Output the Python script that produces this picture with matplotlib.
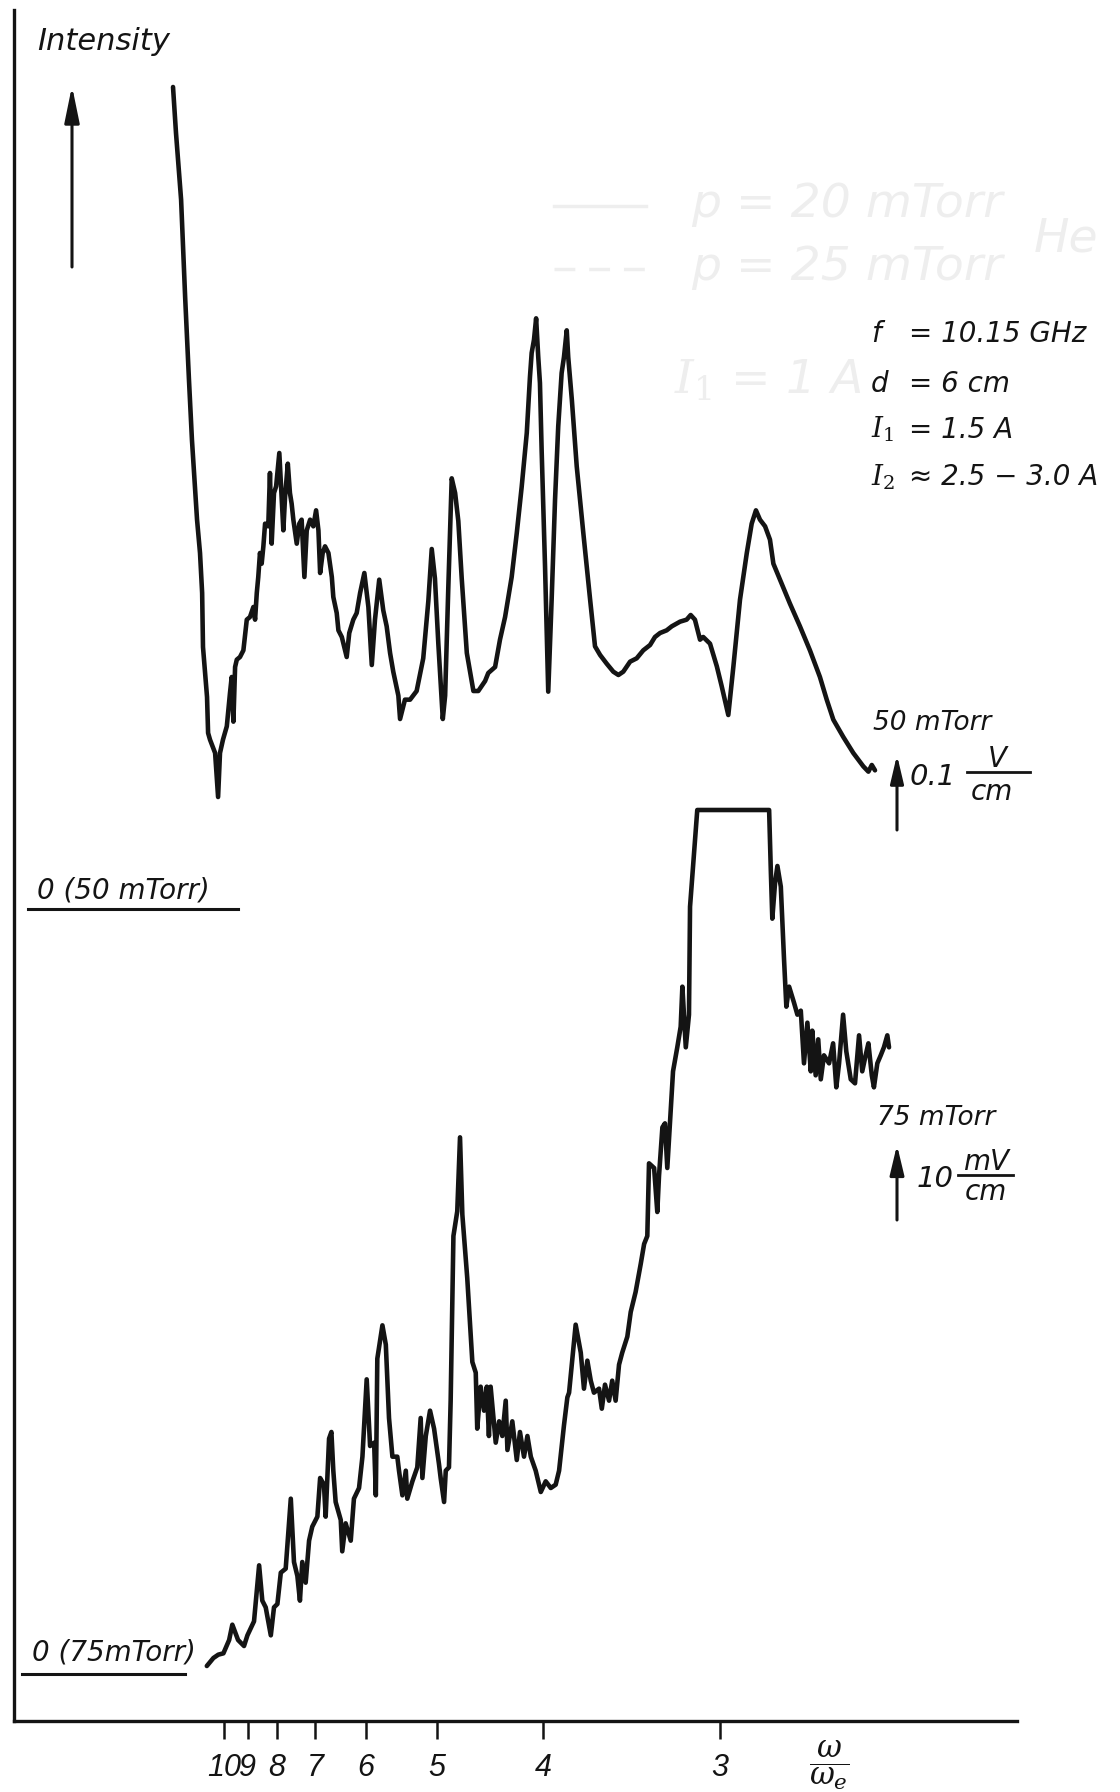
import matplotlib
matplotlib.use("Agg")
import matplotlib.pyplot as plt
from matplotlib import font_manager as fm
from matplotlib.patches import FancyArrowPatch
from matplotlib.lines import Line2D

# ---------------------------------------------------------------- data
# abscissa: omega_e / omega (linear in magnetic field); ticks labelled omega/omega_e
TICK_RATIOS = [10, 9, 8, 7, 6, 5, 4, 3]
X_LIMITS = (0.0012, 0.4730)

# 50 mTorr trace (intensity in mV/cm)
P50_X = [0.0760, 0.0774, 0.0798, 0.0817, 0.0835, 0.0849, 0.0873, 0.0887, 0.0897, 0.0901,
         0.0920, 0.0925, 0.0934, 0.0958, 0.0972, 0.0981, 0.0995, 0.1013, 0.1028, 0.1036,
         0.1044, 0.1052, 0.1060, 0.1075, 0.1091, 0.1107, 0.1122, 0.1138, 0.1146, 0.1154,
         0.1161, 0.1169, 0.1177, 0.1185, 0.1193, 0.1208, 0.1216, 0.1224, 0.1235, 0.1245,
         0.1260, 0.1271, 0.1279, 0.1287, 0.1300, 0.1310, 0.1318, 0.1326, 0.1342, 0.1354,
         0.1365, 0.1378, 0.1389, 0.1405, 0.1420, 0.1433, 0.1444, 0.1452, 0.1464, 0.1475,
         0.1491, 0.1507, 0.1514, 0.1530, 0.1538, 0.1554, 0.1569, 0.1577, 0.1589, 0.1608,
         0.1624, 0.1640, 0.1660, 0.1679, 0.1695, 0.1710, 0.1730, 0.1749, 0.1765, 0.1781,
         0.1796, 0.1820, 0.1828, 0.1851, 0.1875, 0.1906, 0.1937, 0.1961, 0.1977, 0.1992,
         0.2008, 0.2029, 0.2040, 0.2055, 0.2071, 0.2087, 0.2102, 0.2118, 0.2142, 0.2173,
         0.2196, 0.2228, 0.2243, 0.2275, 0.2298, 0.2322, 0.2353, 0.2377, 0.2400, 0.2424,
         0.2439, 0.2447, 0.2458, 0.2468, 0.2478, 0.2486, 0.2494, 0.2510, 0.2525, 0.2541,
         0.2557, 0.2572, 0.2588, 0.2599, 0.2612, 0.2619, 0.2636, 0.2659, 0.2690, 0.2722,
         0.2745, 0.2769, 0.2800, 0.2831, 0.2855, 0.2878, 0.2910, 0.2941, 0.2972, 0.3004,
         0.3027, 0.3051, 0.3082, 0.3106, 0.3145, 0.3176, 0.3195, 0.3215, 0.3239, 0.3254,
         0.3286, 0.3318, 0.3341, 0.3372, 0.3396, 0.3427, 0.3459, 0.3482, 0.3502, 0.3521,
         0.3545, 0.3568, 0.3584, 0.3615, 0.3662, 0.3709, 0.3756, 0.3803, 0.3835, 0.3866,
         0.3913, 0.3960, 0.4007, 0.4031, 0.4047, 0.4062]
P50_Y = [1233, 1164, 1064, 918, 794, 704, 584, 534, 474, 393,
         318, 264, 254, 234, 168, 234, 254, 274, 324, 348,
         281, 363, 374, 378, 388, 434, 438, 453, 434, 474,
         498, 534, 518, 544, 578, 574, 654, 548, 624, 634,
         684, 618, 568, 618, 668, 624, 608, 584, 548, 578,
         584, 498, 568, 584, 574, 598, 568, 504, 534, 544,
         534, 498, 468, 444, 418, 408, 388, 378, 414, 434,
         444, 474, 504, 453, 366, 434, 494, 448, 424, 384,
         356, 320, 285, 314, 314, 327, 376, 462, 540, 496,
         398, 285, 320, 483, 646, 624, 582, 496, 384, 327,
         327, 342, 354, 363, 404, 438, 498, 564, 633, 714,
         798, 834, 854, 886, 828, 789, 688, 513, 326, 464,
         614, 724, 804, 828, 868, 828, 764, 664, 564, 464,
         394, 381, 368, 356, 351, 356, 371, 376, 388, 396,
         408, 414, 418, 424, 431, 434, 441, 434, 404, 408,
         398, 364, 334, 291, 364, 464, 534, 578, 598, 584,
         574, 554, 518, 494, 458, 424, 388, 348, 314, 284,
         258, 234, 214, 206, 216, 208]

# 75 mTorr trace (intensity in mV/cm, pen saturated at the top)
P75_X = [0.0919, 0.0950, 0.0973, 0.0997, 0.1024, 0.1039, 0.1066, 0.1094, 0.1110, 0.1141,
         0.1165, 0.1180, 0.1196, 0.1220, 0.1235, 0.1251, 0.1267, 0.1290, 0.1314, 0.1329,
         0.1345, 0.1357, 0.1368, 0.1384, 0.1400, 0.1415, 0.1439, 0.1452, 0.1470, 0.1478,
         0.1494, 0.1505, 0.1514, 0.1525, 0.1549, 0.1556, 0.1572, 0.1596, 0.1611, 0.1635,
         0.1651, 0.1671, 0.1687, 0.1706, 0.1714, 0.1721, 0.1745, 0.1761, 0.1776, 0.1792,
         0.1815, 0.1823, 0.1839, 0.1855, 0.1862, 0.1886, 0.1909, 0.1925, 0.1933, 0.1949,
         0.1969, 0.1988, 0.2011, 0.2019, 0.2035, 0.2043, 0.2058, 0.2066, 0.2079, 0.2097,
         0.2110, 0.2121, 0.2144, 0.2168, 0.2184, 0.2191, 0.2207, 0.2223, 0.2236, 0.2246,
         0.2254, 0.2278, 0.2294, 0.2309, 0.2325, 0.2333, 0.2356, 0.2377, 0.2392, 0.2411,
         0.2427, 0.2443, 0.2466, 0.2490, 0.2513, 0.2537, 0.2560, 0.2576, 0.2599, 0.2615,
         0.2623, 0.2654, 0.2678, 0.2693, 0.2709, 0.2725, 0.2740, 0.2764, 0.2777, 0.2792,
         0.2811, 0.2826, 0.2842, 0.2858, 0.2873, 0.2897, 0.2913, 0.2936, 0.2960, 0.2976,
         0.2991, 0.2999, 0.3023, 0.3038, 0.3046, 0.3062, 0.3074, 0.3085, 0.3101, 0.3112,
         0.3132, 0.3148, 0.3156, 0.3172, 0.3187, 0.3192, 0.3219, 0.3226, 0.3258, 0.3564,
         0.3572, 0.3579, 0.3592, 0.3603, 0.3619, 0.3634, 0.3645, 0.3658, 0.3681, 0.3697,
         0.3713, 0.3728, 0.3744, 0.3760, 0.3767, 0.3783, 0.3795, 0.3807, 0.3822, 0.3846,
         0.3865, 0.3880, 0.3893, 0.3912, 0.3927, 0.3948, 0.3968, 0.3987, 0.4002, 0.4018,
         0.4031, 0.4047, 0.4057, 0.4073, 0.4089, 0.4104, 0.4120, 0.4128]
P75_Y = [1.2, 2.4, 2.9, 3.1, 5.1, 7.4, 5.1, 4.2, 5.8, 7.9,
         16.3, 11.0, 10.0, 5.8, 10.0, 10.5, 15.2, 15.8, 26.3, 16.8,
         14.7, 11.0, 16.8, 13.7, 20.0, 22.1, 23.6, 29.4, 28.4, 23.6,
         35.3, 36.3, 30.5, 25.8, 23.1, 18.4, 22.6, 20.0, 26.3, 27.9,
         32.6, 44.2, 34.2, 34.7, 26.8, 47.3, 52.3, 49.4, 38.4, 32.6,
         32.6, 30.5, 26.8, 30.5, 26.3, 28.9, 31.0, 38.4, 29.4, 35.7,
         39.5, 36.8, 31.5, 29.4, 25.8, 30.5, 31.0, 41.0, 65.7, 69.4,
         80.5, 68.9, 59.4, 46.8, 45.2, 36.8, 43.1, 39.5, 43.1, 35.7,
         43.1, 34.7, 37.9, 35.7, 41.0, 33.6, 37.9, 32.1, 36.3, 32.6,
         35.7, 32.6, 30.5, 27.3, 28.9, 27.9, 28.4, 30.5, 37.3, 41.5,
         42.2, 52.4, 48.2, 42.8, 47.0, 44.0, 42.2, 42.8, 39.8, 43.4,
         41.0, 44.0, 41.0, 46.4, 48.2, 50.6, 54.3, 57.3, 61.5, 64.5,
         65.7, 76.6, 75.9, 69.3, 74.7, 82.0, 82.6, 75.9, 84.4, 90.4,
         94.0, 97.1, 103.1, 94.0, 98.9, 115.1, 126.6, 129.6, 129.6, 129.6,
         120.5, 113.3, 118.7, 121.2, 118.1, 107.3, 100.1, 103.1, 100.7, 98.9,
         99.5, 91.6, 97.7, 90.4, 96.5, 89.8, 95.2, 89.2, 92.8, 91.6,
         94.6, 88.0, 91.6, 98.9, 93.4, 89.2, 88.6, 95.8, 90.4, 92.8,
         94.6, 89.8, 88.0, 91.6, 92.8, 94.0, 95.8, 94.0]

P50_YLIM = (-1218, 1348.5)
P75_YLIM = (-7.05, 249.6)

PARAM_SYMBOLS = ["f", "d", r"$I_{\mathit{1}}$", r"$I_{\mathit{2}}$"]
PARAM_VALUES = ["= 10.15 GHz", "= 6 cm", "= 1.5 A", "≈ 2.5 − 3.0 A"]

assert len(P50_X) == len(P50_Y) and len(P75_X) == len(P75_Y)

# ---------------------------------------------------------------- style
names = {f.name for f in fm.fontManager.ttflist}
NARROW = "Liberation Sans Narrow" if "Liberation Sans Narrow" in names else "Liberation Sans"
plt.rcParams["font.family"] = ["DejaVu Sans"]
plt.rcParams["mathtext.fontset"] = "dejavuserif"

INK = "#141414"
GHOST = "#eeeeee"
W, H = 1120, 1792

fig = plt.figure(figsize=(W / 100, H / 100), dpi=100)
fig.patch.set_facecolor("white")


def fx(px):
    return px / W


def fy(py):
    return 1 - py / H


ax = fig.add_axes([fx(14), fy(1721), (1017 - 14) / W, (1721 - 10) / H])
ax.set_facecolor("none")
ax2 = ax.twinx()
ax2.set_facecolor("none")

ax.set_xlim(*X_LIMITS)
ax.set_ylim(*P50_YLIM)
ax2.set_ylim(*P75_YLIM)

for s in ["top", "right"]:
    ax.spines[s].set_visible(False)
for s in ["left", "bottom"]:
    ax.spines[s].set_linewidth(2.4)
    ax.spines[s].set_color(INK)
for s in ax2.spines.values():
    s.set_visible(False)
ax.set_yticks([])
ax2.set_yticks([])

ax.set_xticks([1 / r for r in TICK_RATIOS])
ax.set_xticklabels([str(r) for r in TICK_RATIOS])
ax.tick_params(axis="x", direction="out", length=13, width=1.8, pad=10,
               labelsize=22, colors=INK)
for lbl in ax.get_xticklabels():
    lbl.set_fontfamily(NARROW)
    lbl.set_fontstyle("italic")

# ---------------------------------------------------------------- traces
ax.plot(P50_X, P50_Y, color=INK, lw=3.3, solid_joinstyle="round",
        solid_capstyle="round", zorder=3)
ax2.plot(P75_X, P75_Y, color=INK, lw=3.3, solid_joinstyle="round",
         solid_capstyle="round", zorder=3)

# ---------------------------------------------------------------- ghost (show-through of the facing page)
gk = dict(color=GHOST, fontsize=34, fontstyle="oblique", va="baseline", zorder=0)
fig.text(fx(691), fy(217), "p = 20 mTorr", **gk)
fig.text(fx(691), fy(280), "p = 25 mTorr", **gk)
fig.text(fx(1034), fy(251), "He", **gk)
fig.text(fx(674), fy(394), r"$I_1$ = 1 A", **gk)
fig.add_artist(Line2D([fx(554), fx(646)], [fy(206), fy(206)], color=GHOST, lw=2.5, zorder=0))
fig.add_artist(Line2D([fx(554), fx(650)], [fy(269), fy(269)], color=GHOST, lw=2.5,
                      ls=(0, (6, 4)), zorder=0))

# ---------------------------------------------------------------- annotations
txt = dict(color=INK, fontstyle="oblique", va="baseline")

fig.text(fx(37), fy(50), "Intensity", fontsize=22, **txt)


def arrow(x, y0, y1, hl, hw):
    fig.add_artist(FancyArrowPatch((fx(x), fy(y0)), (fx(x), fy(y1)),
                                   transform=fig.transFigure,
                                   arrowstyle=f"-|>,head_length={hl},head_width={hw}",
                                   mutation_scale=1, lw=2.2, color=INK,
                                   shrinkA=0, shrinkB=0))


arrow(72, 267, 86, 22, 4.5)
arrow(897, 830, 755, 17, 4.0)
arrow(897, 1220, 1145, 18, 4.3)

# parameters
rows = [342, 392, 438, 485]
for sym, val, yb in zip(PARAM_SYMBOLS, PARAM_VALUES, rows):
    fig.text(fx(871), fy(yb), sym, fontsize=20, **txt)
    fig.text(fx(909), fy(yb), val, fontsize=20, **txt)

# scale labels
fig.text(fx(873), fy(730), "50 mTorr", fontsize=19, **txt)
fig.text(fx(910), fy(785), "0.1", fontsize=21, **txt)
fig.text(fx(997), fy(767), "V", fontsize=20, ha="center", **txt)
fig.add_artist(Line2D([fx(967), fx(1030)], [fy(772), fy(772)], color=INK, lw=2.0))
fig.text(fx(992), fy(800), "cm", fontsize=20, ha="center", **txt)

fig.text(fx(877), fy(1125), "75 mTorr", fontsize=19, **txt)
fig.text(fx(917), fy(1187), "10", fontsize=21, **txt)
fig.text(fx(986), fy(1170), "mV", fontsize=20, ha="center", **txt)
fig.add_artist(Line2D([fx(958), fx(1013)], [fy(1175), fy(1175)], color=INK, lw=2.0))
fig.text(fx(986), fy(1200), "cm", fontsize=20, ha="center", **txt)

# zero lines
fig.text(fx(37), fy(899), "0 (50 mTorr)", fontsize=20, **txt)
fig.add_artist(Line2D([fx(28), fx(238)], [fy(909), fy(909)], color=INK, lw=2.2))
fig.text(fx(32), fy(1660), "0 (75mTorr)", fontsize=20, **txt)
fig.add_artist(Line2D([fx(22), fx(185)], [fy(1674), fy(1674)], color=INK, lw=2.2))

# axis label omega / omega_e
fig.text(fx(829), fy(1766), r"$\dfrac{\omega}{\omega_e}$", fontsize=22, ha="center",
         va="center", color=INK)

fig.savefig("out.png", dpi=100, facecolor="white")
